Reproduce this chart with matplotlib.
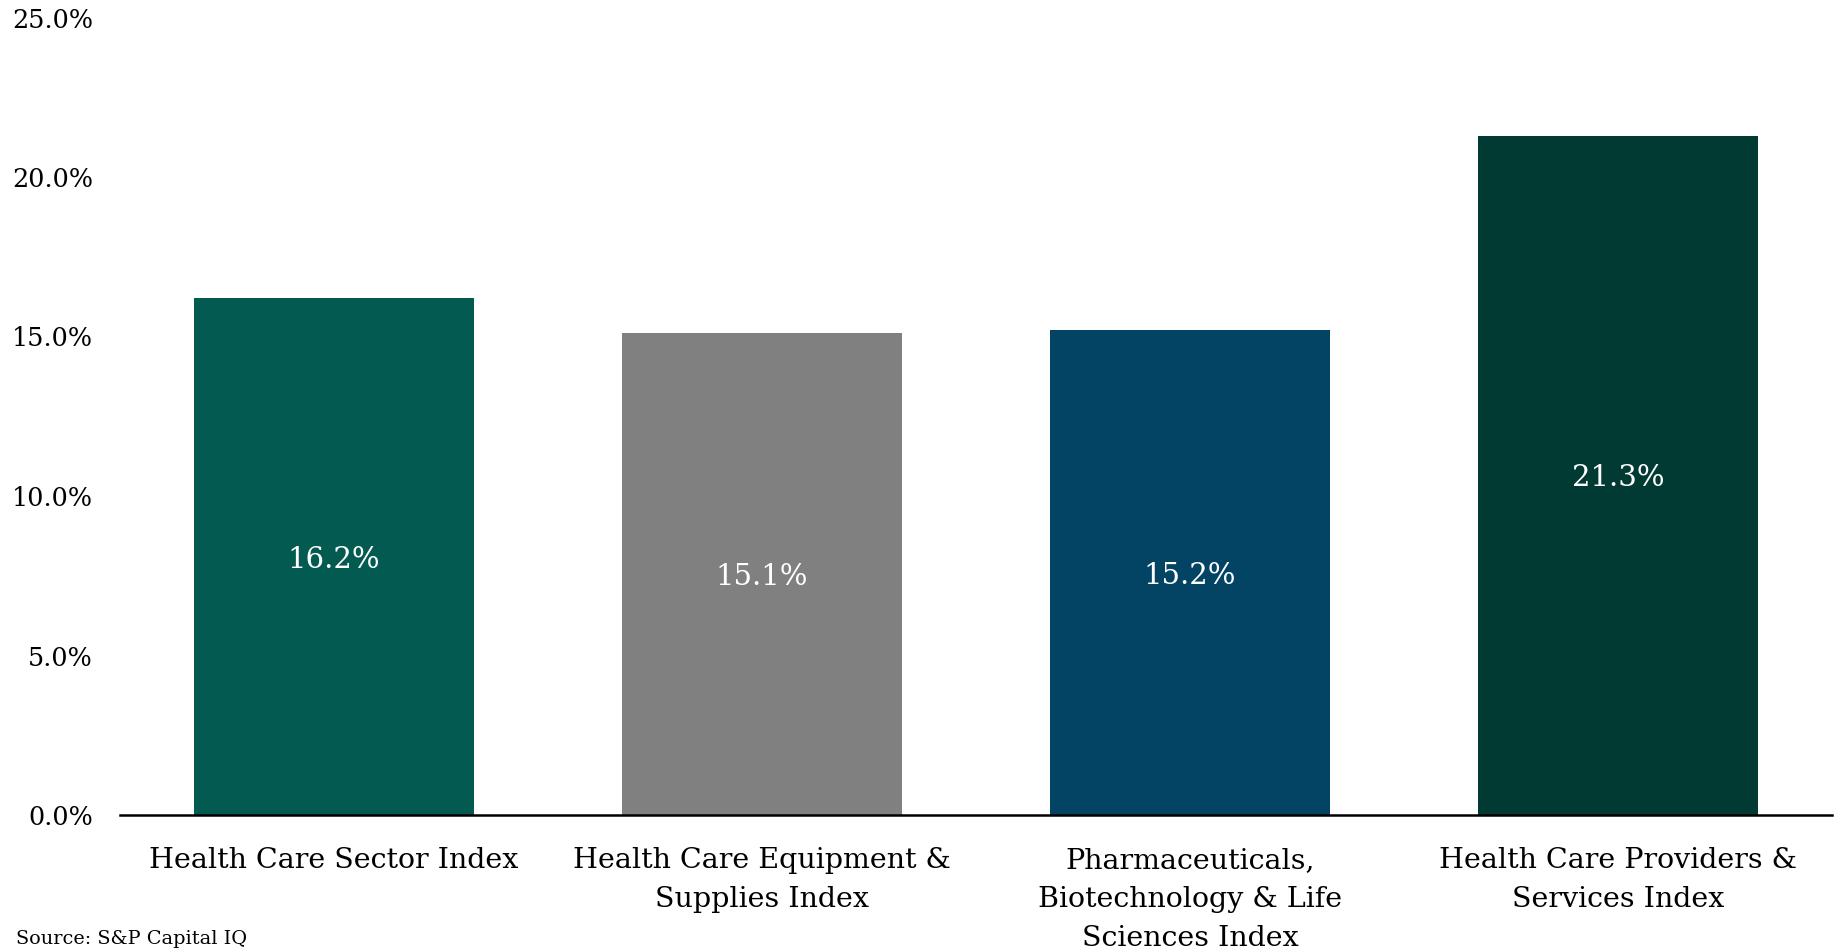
import matplotlib
matplotlib.use("Agg")
import matplotlib.pyplot as plt
from matplotlib.ticker import FuncFormatter

categories = ["Health Care Sector Index",
              "Health Care Equipment &\nSupplies Index",
              "Pharmaceuticals,\nBiotechnology & Life\nSciences Index",
              "Health Care Providers &\nServices Index"]
values = [16.2, 15.1, 15.2, 21.3]
colors = ["#035a50", "#808080", "#034363", "#013a33"]
yticks = [0, 5, 10, 15, 20, 25]

plt.rcParams['font.family'] = ['DejaVu Serif']

fig = plt.figure(figsize=(18.35, 9.5), dpi=100)
ax = fig.add_axes([120/1835, 1-815/950, 1712/1835, (815-17.5)/950])

x = list(range(len(categories)))
bars = ax.bar(x, values, width=0.654, color=colors)
for xi, v in zip(x, values):
    ax.text(xi, v/2, f"{v:.1f}%", ha="center", va="center_baseline", color="white", fontsize=21)

ax.set_xlim(-0.5, 3.5)
ax.set_ylim(0, 25)
ax.set_yticks(yticks)
ax.yaxis.set_major_formatter(FuncFormatter(lambda v, p: f"{v:.1f}%"))
ax.set_xticks(x)
ax.set_xticklabels(categories, fontsize=20.5, linespacing=1.58)
ax.tick_params(axis="y", length=0, pad=19.5, labelsize=18.4)
ax.tick_params(axis="x", length=0, pad=23)
for s in ["left", "right", "top"]:
    ax.spines[s].set_visible(False)
ax.spines["bottom"].set_linewidth(1.8)
ax.spines["bottom"].set_color("black")

fig.text(16/1835, 1-939/950, "Source: S&P Capital IQ", fontsize=13.9, va="center", ha="left")

fig.savefig("out.png", dpi=100)
